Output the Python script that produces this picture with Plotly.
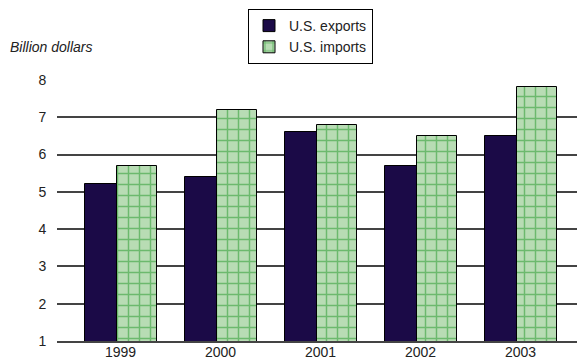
import plotly.graph_objects as go

years = ["1999", "2000", "2001", "2002", "2003"]
exports = [5.2, 5.4, 6.6, 5.7, 6.5]
imports = [5.7, 7.2, 6.8, 6.5, 7.8]
y_ticks = [1, 2, 3, 4, 5, 6, 7, 8]

FONT = "Liberation Sans, Arial, sans-serif"

fig = go.Figure()
fig.add_trace(go.Bar(
    x=years, y=exports, name="U.S. exports",
    offset=-0.36, width=0.32,
    marker=dict(color="#1b0a47", line=dict(color="#000000", width=1)),
))
fig.add_trace(go.Bar(
    x=years, y=imports, name="U.S. imports",
    offset=-0.04, width=0.40,
    marker=dict(
        color="#b8dcb4",
        line=dict(color="#000000", width=1),
        pattern=dict(shape="+", fgcolor="#1f9626", size=11, solidity=0.25, fillmode="overlay"),
    ),
))

fig.update_layout(
    width=577, height=360,
    margin=dict(l=57, r=0, t=80, b=19, autoexpand=False),
    paper_bgcolor="white", plot_bgcolor="white",
    font=dict(family=FONT, size=14, color="#222222"),
    showlegend=True,
    legend=dict(
        xref="container", yref="container",
        x=248/577, y=1-9/360, xanchor="left", yanchor="top",
        bordercolor="#000000", borderwidth=1,
        font=dict(family=FONT, size=14, color="#222222"),
        entrywidth=115, entrywidthmode="pixels",
        tracegroupgap=0,
        bgcolor="white",
    ),
    title=dict(
        text="<i>Billion dollars</i>",
        xref="container", yref="container",
        x=10/577, y=1-47/360, xanchor="left", yanchor="middle",
        font=dict(family=FONT, size=14, color="#222222"),
    ),
    bargap=0,
)
fig.update_xaxes(
    type="category", range=[-0.635, 4.565],
    showgrid=False, showline=True, linecolor="#444444", linewidth=1.5,
    ticks="", tickfont=dict(size=14), automargin=False,
    ticklabelstandoff=-3,
)
fig.update_yaxes(
    range=[1, 8], tickvals=y_ticks,
    showgrid=True, gridcolor="#444444", gridwidth=1.5,
    ticks="outside", ticklen=7, tickcolor="rgba(0,0,0,0)",
    zeroline=False, showline=False, automargin=False,
    tickfont=dict(size=14),
)

fig.write_html("out.html")
